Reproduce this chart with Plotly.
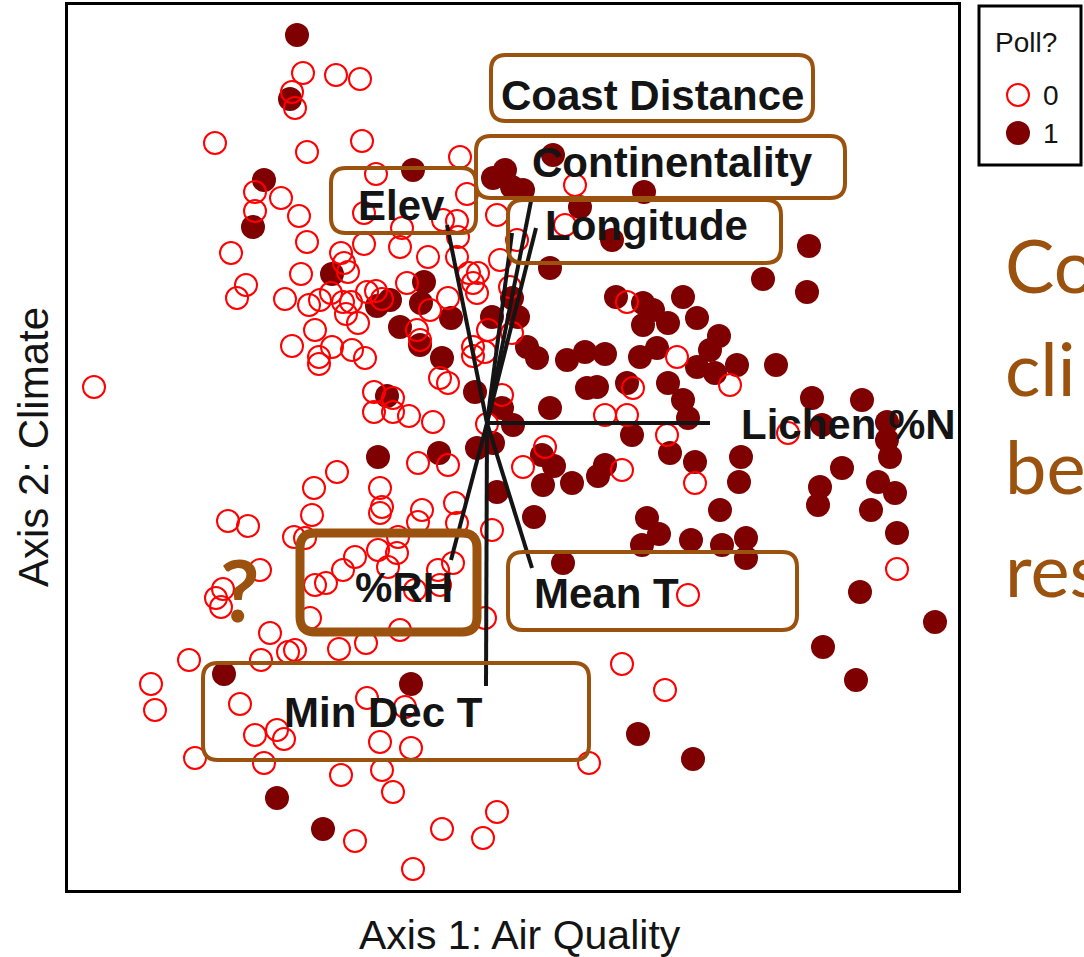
import plotly.graph_objects as go

W, H = 1084, 957

# ---- ordination site scores (x100), Poll? = 0 (open) ----
open_x = [-184, -151, -127, -195, -192, -272, -180, -125, -232, -206, -232, -188, -123, -180, -256,
          -146, -143, -139, -123, -186, -241, -250, -202, -178, -167, -156, -144, -136, -120, -141,
          -129, -172, -195, -155, -135, -122, -168, -168, -111, -85, -87, -59, -80, -111, -105,
          -39, -57, -70, -67, -47, -39, -113, -94, -113, -94, -78, -54, -69, -39, -150,
          -44, -30, -20, -29, -30, -18, -9, -14, -10, 10, 13, 23, 0, -14, -2,
          -14, -27, 88, 30, 78, 1, 25, 190, 243, 146, 118, 140, 180, 58, 36,
          135, 208, 5, 15, 140, -107, -105, -107, -65, -69, -32, -30, -89, -109, -90,
          -34, -49, -47, -72, -99, 301, 410, 201, 178, -2, -87, -121, 135, -120, -82,
          -107, -76, -105, -94, 102, -45, -4, 10, -74, -132, -266, -271, -217, -298, -226,
          -199, -192, -148, -336, -332, -247, -232, -210, -203, -292, -223, -146, -177, -393, -173,
          -175, -259, -239, -193, -182, -227, -132, -144, -161, -172, -264]
open_y = [350, 348, 344, 331, 315, 280, 271, 282, 231, 225, 212, 207, 210, 181, 170,
          170, 160, 151, 179, 149, 138, 125, 124, 118, 123, 130, 121, 121, 131, 109,
          100, 93, 77, 76, 73, 65, 66, 59, 249, 195, 176, 166, 140, 132, 124,
          125, 113, 93, 83, 45, 40, 31, 25, 11, 11, 7, 1, -40, -42, -49,
          203, 202, 229, 186, 166, 150, 150, 140, 130, 208, 163, 136, -1, 76, 71,
          67, 266, 238, 183, 198, 93, 90, 66, 38, 35, 8, 8, -12, -24, -44,
          -47, -60, -107, 28, 121, -65, -84, -90, -87, -99, -80, -100, -114, -127, -130,
          -140, -147, -162, -167, -144, -10, -146, -172, -267, -195, -207, -220, -241, -275, -284,
          -319, -325, -347, -369, -340, -406, -415, -389, -446, -418, -184, -175, -210, -237, -237,
          -229, -227, -226, -261, -287, -281, -312, -307, -316, -335, -340, -352, -195, 36, -65,
          -92, -98, -103, -114, -115, -147, -134, -147, -160, -162, -166]

# ---- Poll? = 1 (filled) ----
fill_x = [-190, -197, -223, -234, -155, -74, 6, 18, 25, 36, 66, 157, 93, 125, 63,
          322, 276, 320, -63, -97, -110, -66, -87, -67, -36, -45, -100, 5, -12, -109,
          -48, -10, 25, 129, 156, 166, 196, 156, 181, 210, 232, 223, 170, 153, 210,
          228, 250, 289, 31, 40, 50, 80, 98, 118, 100, 110, 140, 181, 196, 201,
          145, 183, 208, 254, 252, 63, 15, 26, 6, 55, 67, 56, 85, 111, 118,
          10, 47, 160, 172, 155, 204, 235, 259, 233, 325, 375, 400, 335, 400, 403,
          355, 333, 331, 391, 408, 384, 410, 259, 373, 448, 336, 369, 206, 76, -76,
          151, -263, -210, -164]
fill_y = [388, 324, 243, 196, 149, 253, 245, 253, 236, 233, 268, 231, 216, 183, 155,
          177, 144, 131, 141, 123, 117, 120, 96, 78, 105, 65, 27, 106, 31, -34,
          -30, -25, 125, 126, 120, 113, 126, 98, 100, 105, 87, 73, 75, 66, 56,
          50, 58, 58, 106, 76, 65, 63, 71, 69, 35, 36, 40, 40, 23, 5,
          -12, -30, -39, -34, -59, 15, 15, -2, -20, -32, -43, -62, -60, -53, -42,
          -69, -94, -95, -111, -122, -117, -122, -115, -87, 25, 23, 1, -2, -17, -34,
          -45, -64, -82, -59, -70, -87, -110, -135, -169, -199, -224, -257, -336, -140, -261,
          -311, -251, -375, -406]

# ---- environmental vectors (biplot) ----
vec_names = ["Elev", "Coast Distance", "Continentality", "Longitude",
             "Lichen %N", "%RH", "Mean T", "Min Dec T"]
vec_x = [-40, 25, 45, 49, 223, -36, 45, -1]
vec_y = [198, 190, 227, 195, 0, -137, -145, -263]

poll_levels = ["0", "1"]

BROWN = "#9A520E"
INK = "#141414"
OPEN_RED = "#FF0000"
FILL_RED = "#7F0000"

XR = [-419, 471]
YR = [-467, 418]

fig = go.Figure()

fig.add_trace(go.Scatter(x=fill_x, y=fill_y, mode="markers", showlegend=False,
                         marker=dict(symbol="circle", size=24, color=FILL_RED, line=dict(width=0))))
fig.add_trace(go.Scatter(x=open_x, y=open_y, mode="markers", showlegend=False,
                         marker=dict(symbol="circle-open", size=22, color=OPEN_RED,
                                     line=dict(width=2, color=OPEN_RED))))

for vx, vy in zip(vec_x, vec_y):
    fig.add_trace(go.Scatter(x=[0, vx], y=[0, vy], mode="lines", showlegend=False,
                             line=dict(color=INK, width=4), hoverinfo="skip"))

# legend markers on their own small axes
fig.add_trace(go.Scatter(x=[40], y=[90], xaxis="x2", yaxis="y2", mode="markers", showlegend=False,
                         marker=dict(symbol="circle-open", size=22, color=OPEN_RED,
                                     line=dict(width=2, color=OPEN_RED))))
fig.add_trace(go.Scatter(x=[40], y=[128], xaxis="x2", yaxis="y2", mode="markers", showlegend=False,
                         marker=dict(symbol="circle", size=24, color=FILL_RED)))


def rrect(x0, y0, x1, y1, r=15):
    return (f"M{x0+r},{y0} L{x1-r},{y0} Q{x1},{y0} {x1},{y0+r} L{x1},{y1-r} "
            f"Q{x1},{y1} {x1-r},{y1} L{x0+r},{y1} Q{x0},{y1} {x0},{y1-r} "
            f"L{x0},{y0+r} Q{x0},{y0} {x0+r},{y0} Z")


# label boxes: (label, x0, x1, y0, y1, tx, ty, border width)
boxes = [
    ("Coast Distance", 4, 326, 302, 368, 165, 327, 4),
    ("Continentality", -11, 358, 225, 287, 185, 260, 4),
    ("Elev", -156, -11, 190, 255, -86, 217, 4),
    ("Longitude", 21, 294, 160, 223, 159, 197, 4),
    ("%RH", -187, -10, -209, -110, -83, -164, 9),
    ("Mean T", 21, 310, -207, -129, 119, -170, 4),
    ("Min Dec T", -284, 102, -337, -240, -104, -289, 4),
]

shapes = []
annotations = []
for lab, x0, x1, y0, y1, tx, ty, lw in boxes:
    shapes.append(dict(type="path", xref="x", yref="y", path=rrect(x0, y0, x1, y1),
                       line=dict(color=BROWN, width=lw), layer="above"))
    annotations.append(dict(x=tx, y=ty, xref="x", yref="y", text=lab, showarrow=False,
                            xanchor="center", yanchor="middle",
                            font=dict(family="Liberation Sans, Arial", size=42, color=INK,
                                      weight="bold")))

annotations.append(dict(x=361, y=-2, xref="x", yref="y", text="Lichen %N", showarrow=False,
                        xanchor="center", yanchor="middle",
                        font=dict(family="Liberation Sans, Arial", size=42, color=INK, weight="bold")))

annotations.append(dict(x=-247, y=-165, xref="x", yref="y", text="?", showarrow=False,
                        xanchor="center", yanchor="middle",
                        font=dict(family="Lato", size=86, color=BROWN, weight="bold")))

# axis titles
annotations.append(dict(x=520 / W, y=1 - 935 / H, xref="paper", yref="paper",
                        text="Axis 1: Air Quality", showarrow=False, xanchor="center", yanchor="middle",
                        font=dict(family="Liberation Sans, Arial", size=41, color=INK)))
annotations.append(dict(x=33 / W, y=1 - 447 / H, xref="paper", yref="paper",
                        text="Axis 2: Climate", showarrow=False, xanchor="center", yanchor="middle",
                        textangle=-90,
                        font=dict(family="Liberation Sans, Arial", size=42, color=INK)))

# legend box and texts
shapes.append(dict(type="rect", xref="paper", yref="paper",
                   x0=979 / W, x1=1081 / W, y0=1 - 165 / H, y1=1 - 6 / H,
                   line=dict(color="black", width=3), fillcolor="rgba(0,0,0,0)"))
annotations.append(dict(x=1026 / W, y=1 - 42 / H, xref="paper", yref="paper", text="Poll?",
                        showarrow=False, xanchor="center", yanchor="middle",
                        font=dict(family="Liberation Sans, Arial", size=28, color=INK)))
for lvl, py in zip(poll_levels, [95, 133]):
    annotations.append(dict(x=1041 / W, y=1 - py / H, xref="paper", yref="paper", text=lvl,
                            showarrow=False, xanchor="left", yanchor="middle",
                            font=dict(family="Liberation Sans, Arial", size=28, color=INK)))

# right-hand (clipped) slide text
for txt, py in zip(["Co", "cli", "be", "res"], [264, 368, 466, 568]):
    annotations.append(dict(x=1003 / W, y=1 - py / H, xref="paper", yref="paper", text=txt,
                            showarrow=False, xanchor="left", yanchor="middle",
                            font=dict(family="Lato", size=74, color=BROWN)))

axis_common = dict(showgrid=False, zeroline=False, showticklabels=False, ticks="")

fig.update_layout(
    width=W, height=H,
    margin=dict(l=0, r=0, t=0, b=0),
    paper_bgcolor="white", plot_bgcolor="white",
    showlegend=False,
    xaxis=dict(domain=[68 / W, 958 / W], range=XR, showline=True, mirror=True,
               linecolor="black", linewidth=3, **axis_common),
    yaxis=dict(domain=[1 - 890 / H, 1 - 5 / H], range=YR, showline=True, mirror=True,
               linecolor="black", linewidth=3, **axis_common),
    xaxis2=dict(domain=[978 / W, 1082 / W], range=[0, 104], visible=False, anchor="y2"),
    yaxis2=dict(domain=[1 - 165 / H, 1 - 5 / H], range=[160, 0], visible=False, anchor="x2"),
    shapes=shapes,
    annotations=annotations,
)

fig.write_html(
    "out.html",
    config={"displayModeBar": False},
    post_script="document.body.style.margin='0px';document.body.style.padding='0px';"
                "document.documentElement.style.overflow='hidden';",
)
